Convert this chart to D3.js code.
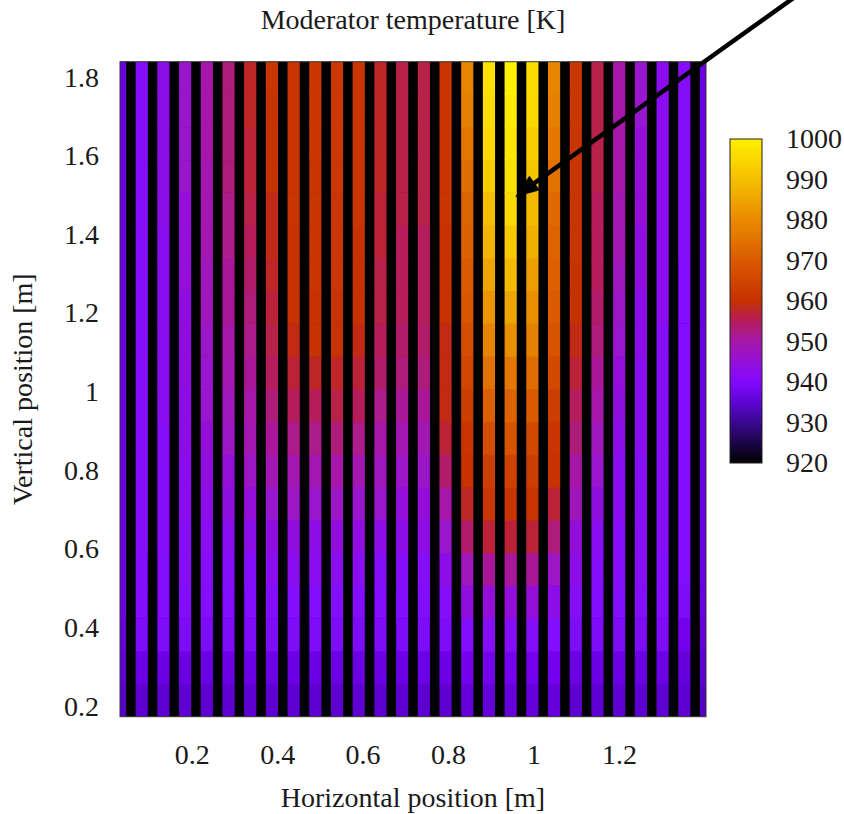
<!DOCTYPE html>
<html>
<head>
<meta charset="utf-8">
<script src="https://cdn.jsdelivr.net/npm/d3@7"></script>
<style>
  html, body { margin: 0; padding: 0; background: #fff; }
  svg { display: block; }
  svg text { font-family: "Liberation Serif", "Times New Roman", serif; }
</style>
</head>
<body>
<svg id="chart" width="844" height="814"></svg>
<script>
// Moderator column centres across the core [m] (edge columns are half cells)
const channelX = [0.0322, 0.0830, 0.1338, 0.1846, 0.2354, 0.2862, 0.3370, 0.3878, 0.4386, 0.4894,
                  0.5402, 0.5910, 0.6418, 0.6926, 0.7434, 0.7942, 0.8450, 0.8958, 0.9466, 0.9974,
                  1.0482, 1.0990, 1.1498, 1.2006, 1.2514, 1.3022, 1.3530, 1.4038];

// Axial node centres [m], bottom to top
const axialY = [0.215, 0.298, 0.381, 0.465, 0.548, 0.631, 0.715, 0.798, 0.881, 0.965,
                1.048, 1.131, 1.215, 1.298, 1.381, 1.465, 1.548, 1.631, 1.715, 1.798];

// Moderator temperature [K]: one row per column (left to right), values bottom to top
const temperature = [
  [934,935,936,937,937,937,937,937,937,937,937,937,937,937,937,937,937,937,937,937],
  [935,937,939,940,940,941,941,941,941,941,941,941,941,941,941,941,941,941,941,941],
  [935,937,939,940,940,941,941,941,941,942,942,942,942,942,942,943,943,943,943,943],
  [935,937,939,940,941,941,942,942,943,943,944,944,944,945,945,945,946,946,946,946],
  [935,937,939,940,941,942,943,944,945,946,946,947,948,948,949,949,949,950,950,950],
  [935,937,939,940,941,942,944,945,947,948,949,950,951,951,952,952,953,953,953,953],
  [935,937,939,940,941,943,945,947,949,950,951,952,953,954,955,956,957,957,958,958],
  [935,937,939,940,942,944,946,949,951,953,955,956,957,958,959,959,960,960,960,961],
  [935,937,939,940,942,944,947,949,952,955,957,959,960,960,960,961,961,961,961,961],
  [935,937,939,940,942,943,946,949,952,955,958,960,960,961,961,961,961,962,962,962],
  [935,937,939,940,942,944,947,950,953,956,958,960,960,961,961,961,962,962,962,962],
  [935,937,939,940,942,944,946,949,952,955,957,959,960,960,960,961,961,961,961,961],
  [935,937,939,940,941,943,946,948,950,952,954,955,956,956,957,957,958,958,958,958],
  [935,937,939,940,941,943,945,947,949,951,953,954,955,955,955,956,956,956,956,956],
  [935,937,939,940,941,943,945,947,949,951,953,954,955,955,955,956,956,956,956,956],
  [935,937,939,941,943,946,950,954,957,959,959,959,960,960,960,961,961,961,961,961],
  [936,938,940,944,948,954,958,960,961,963,965,967,969,970,971,972,974,976,978,979],
  [936,938,941,945,951,957,961,963,967,971,975,979,982,985,988,990,993,995,996,997],
  [936,938,941,945,951,957,961,964,968,972,976,981,985,989,992,995,997,998,999,1000],
  [936,938,941,945,951,957,961,963,966,970,974,978,981,984,987,989,991,993,995,996],
  [936,938,940,943,947,953,957,960,961,963,966,968,970,971,972,973,975,976,978,979],
  [935,937,939,941,943,945,948,950,953,955,957,959,960,960,961,961,961,961,962,962],
  [935,937,939,940,941,942,944,946,948,950,951,953,954,955,955,955,956,956,956,956],
  [935,937,939,940,941,941,942,942,943,944,945,946,947,948,949,949,950,950,950,950],
  [935,937,939,940,941,941,941,941,942,942,942,943,943,944,944,945,945,945,946,946],
  [935,937,939,940,940,941,941,941,941,941,941,941,942,942,942,942,942,942,942,942],
  [935,936,938,939,940,940,940,940,940,940,940,940,940,940,941,941,941,941,941,941],
  [934,935,936,937,937,937,937,937,937,937,937,937,937,937,937,937,937,937,937,937]
];

const xTicks = [0.2, 0.4, 0.6, 0.8, 1, 1.2];
const yTicks = [0.2, 0.4, 0.6, 0.8, 1, 1.2, 1.4, 1.6, 1.8];
const colorTicks = [920, 930, 940, 950, 960, 970, 980, 990, 1000];

// Colour palette (temperature stops and colours)
const paletteStops  = [920, 925, 930, 935, 940, 945, 950, 955, 960, 970, 980, 990, 1000];
const paletteColors = ["#000000", "#1c0448", "#3a0890", "#5e04d2", "#8208ff", "#9410d8", "#a618a8",
                       "#b41c5c", "#c63000", "#da5a00", "#e98a00", "#f5bf00", "#fff000"];

// Annotation arrow (data coordinates) pointing at the hottest moderator column
const arrowTail = [1.62, 2.01];
const arrowTip  = [0.957, 1.495];

const svg = d3.select("#chart");
const plot = { left: 120, right: 706, top: 61.7, bottom: 716.7 };
const moderatorWidth = 0.0285;   // width of graphite between fuel channels [m]
const serif = "Liberation Serif, Times New Roman, serif";
const textColor = "#1a1a1a";
const fontSize = 28;

const x = d3.scaleLinear().domain([0.0322, 1.4038]).range([plot.left, plot.right]);
const y = d3.scaleLinear().domain([0.173, 1.839]).range([plot.bottom, plot.top]);
const color = d3.scaleLinear().domain(paletteStops).range(paletteColors)
  .interpolate(d3.interpolateRgb).clamp(true);

// Row boundaries halfway between axial nodes
const yDom = y.domain();
const rowEdges = axialY.map((v, i) => i === 0 ? yDom[0] : (axialY[i - 1] + v) / 2);
rowEdges.push(yDom[1]);

const defs = svg.append("defs");
defs.append("clipPath").attr("id", "plot-clip")
  .append("rect")
  .attr("x", plot.left).attr("y", plot.top)
  .attr("width", plot.right - plot.left).attr("height", plot.bottom - plot.top);
defs.append("filter").attr("id", "soften")
  .attr("x", -0.05).attr("y", -0.05).attr("width", 1.1).attr("height", 1.1)
  .append("feGaussianBlur").attr("stdDeviation", 0.6);

const map = svg.append("g").attr("clip-path", "url(#plot-clip)")
  .append("g").attr("filter", "url(#soften)");

// Fuel channels show as black between moderator columns
map.append("rect")
  .attr("x", plot.left - 10).attr("y", plot.top - 10)
  .attr("width", plot.right - plot.left + 20).attr("height", plot.bottom - plot.top + 20)
  .attr("fill", color(920));

const cells = [];
temperature.forEach((col, i) => {
  col.forEach((t, j) => cells.push({
    cx: channelX[i],
    y0: j === 0 ? rowEdges[j] - 0.05 : rowEdges[j],
    y1: j === col.length - 1 ? rowEdges[j + 1] + 0.05 : rowEdges[j + 1],
    t
  }));
});

map.selectAll("rect.cell").data(cells).join("rect")
  .attr("class", "cell")
  .attr("x", d => x(d.cx - moderatorWidth / 2))
  .attr("width", d => x(d.cx + moderatorWidth / 2) - x(d.cx - moderatorWidth / 2))
  .attr("y", d => y(d.y1) - 0.3)
  .attr("height", d => y(d.y0) - y(d.y1) + 0.6)
  .attr("fill", d => color(d.t));

// Plot frame
svg.append("rect")
  .attr("x", plot.left).attr("y", plot.top)
  .attr("width", plot.right - plot.left).attr("height", plot.bottom - plot.top)
  .attr("fill", "none").attr("stroke", "#333").attr("stroke-width", 1);

// Axes
const xAxis = svg.append("g")
  .attr("transform", `translate(0,${plot.bottom})`)
  .call(d3.axisBottom(x).tickValues(xTicks).tickSize(0).tickPadding(27).tickFormat(d => String(d)));
const yAxis = svg.append("g")
  .attr("transform", `translate(${plot.left},0)`)
  .call(d3.axisLeft(y).tickValues(yTicks).tickSize(0).tickPadding(21).tickFormat(d => String(d)));

// Colour bar
const bar = { left: 730, right: 762, top: 139, bottom: 463 };
const cbar = d3.scaleLinear().domain([920, 1000]).range([bar.bottom, bar.top]);
const grad = defs.append("linearGradient")
  .attr("id", "cbar-grad").attr("x1", 0).attr("y1", 1).attr("x2", 0).attr("y2", 0);
grad.selectAll("stop").data(d3.range(920, 1000.1, 1)).join("stop")
  .attr("offset", d => (d - 920) / 80)
  .attr("stop-color", d => color(d));
svg.append("rect")
  .attr("x", bar.left).attr("y", bar.top)
  .attr("width", bar.right - bar.left).attr("height", bar.bottom - bar.top)
  .attr("fill", "url(#cbar-grad)").attr("stroke", "#222").attr("stroke-width", 1);
const cAxis = svg.append("g")
  .attr("transform", `translate(${bar.right},0)`)
  .call(d3.axisRight(cbar).tickValues(colorTicks).tickSize(0).tickPadding(24).tickFormat(d => String(d)));

[xAxis, yAxis, cAxis].forEach(g => {
  g.attr("font-family", serif).attr("font-size", fontSize);
  g.select(".domain").remove();
  g.selectAll("text").attr("fill", textColor)
    .style("font-family", serif).style("font-size", fontSize + "px");
});

// Titles
const label = (xPos, yPos, txt, rotate) => svg.append("text")
  .attr("transform", `translate(${xPos},${yPos})` + (rotate ? " rotate(-90)" : ""))
  .attr("text-anchor", "middle")
  .style("font-family", serif).style("font-size", fontSize + "px")
  .attr("fill", textColor)
  .text(txt);
label((plot.left + plot.right) / 2, 29, "Moderator temperature [K]");
label((plot.left + plot.right) / 2, 807, "Horizontal position [m]");
label(32, (plot.top + plot.bottom) / 2, "Vertical position [m]", true);

// Arrow annotation
const p0 = [x(arrowTail[0]), y(arrowTail[1])];
const p1 = [x(arrowTip[0]), y(arrowTip[1])];
const len = Math.hypot(p1[0] - p0[0], p1[1] - p0[1]);
const u = [(p1[0] - p0[0]) / len, (p1[1] - p0[1]) / len];
const n = [-u[1], u[0]];
const headLen = 24, headHalf = 9;
const base = [p1[0] - u[0] * headLen, p1[1] - u[1] * headLen];
svg.append("line")
  .attr("x1", p0[0]).attr("y1", p0[1])
  .attr("x2", base[0] + u[0] * 2).attr("y2", base[1] + u[1] * 2)
  .attr("stroke", "#000").attr("stroke-width", 4.5);
svg.append("path")
  .attr("d", d3.line()([p1,
    [base[0] + n[0] * headHalf, base[1] + n[1] * headHalf],
    [base[0] - n[0] * headHalf, base[1] - n[1] * headHalf]]) + "Z")
  .attr("fill", "#000");
</script>
</body>
</html>
